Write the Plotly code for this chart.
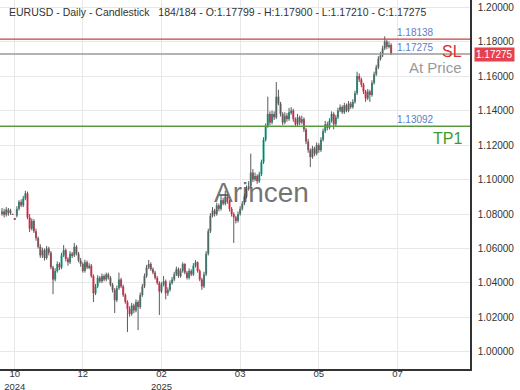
import plotly.graph_objects as go

# ---------------- data ----------------
opens = [
1.0805, 1.0815, 1.0795, 1.0825, 1.0805, 1.0800, 1.0772, 1.0790, 1.0830, 1.0870,
1.0850, 1.0890, 1.0920, 1.0780, 1.0715, 1.0760, 1.0700, 1.0660, 1.0610, 1.0560,
1.0590, 1.0545, 1.0600, 1.0575, 1.0490, 1.0420, 1.0470, 1.0510, 1.0490, 1.0560,
1.0590, 1.0540, 1.0520, 1.0570, 1.0560, 1.0610, 1.0570, 1.0530, 1.0510, 1.0470,
1.0520, 1.0490, 1.0500, 1.0440, 1.0340, 1.0380, 1.0430, 1.0410, 1.0440, 1.0420,
1.0450, 1.0430, 1.0390, 1.0360, 1.0300, 1.0370, 1.0420, 1.0380, 1.0330, 1.0290,
1.0250, 1.0220, 1.0270, 1.0240, 1.0290, 1.0260, 1.0330, 1.0380, 1.0440, 1.0490,
1.0510, 1.0480, 1.0460, 1.0430, 1.0400, 1.0350, 1.0390, 1.0410, 1.0340, 1.0360,
1.0400, 1.0420, 1.0450, 1.0480, 1.0440, 1.0470, 1.0510, 1.0460, 1.0430, 1.0470,
1.0450, 1.0500, 1.0520, 1.0470, 1.0420, 1.0380, 1.0450, 1.0570, 1.0700, 1.0790,
1.0820, 1.0800, 1.0850, 1.0830, 1.0880, 1.0860, 1.0900, 1.0870, 1.0830, 1.0800,
1.0780, 1.0760, 1.0800, 1.0830, 1.0860, 1.0900, 1.0950, 1.0960, 1.1040, 1.1000,
1.1020, 1.0990, 1.1030, 1.1100, 1.1230, 1.1310, 1.1380, 1.1330, 1.1380, 1.1360,
1.1480, 1.1440, 1.1380, 1.1330, 1.1370, 1.1350, 1.1390, 1.1400, 1.1350, 1.1320,
1.1360, 1.1330, 1.1350, 1.1290, 1.1220, 1.1170, 1.1130, 1.1180, 1.1150, 1.1200,
1.1170, 1.1230, 1.1280, 1.1320, 1.1300, 1.1340, 1.1380, 1.1320, 1.1360, 1.1400,
1.1420, 1.1390, 1.1430, 1.1400, 1.1440, 1.1420, 1.1450, 1.1500, 1.1600, 1.1580,
1.1550, 1.1510, 1.1470, 1.1510, 1.1490, 1.1560, 1.1610, 1.1650, 1.1700, 1.1720,
1.1760, 1.1800, 1.1770, 1.17799,
]
highs = [
1.0835, 1.0830, 1.0840, 1.0835, 1.0830, 1.0802, 1.0774, 1.0845, 1.0880, 1.0885,
1.0905, 1.0935, 1.0930, 1.0800, 1.0775, 1.0770, 1.0715, 1.0670, 1.0625, 1.0605,
1.0600, 1.0615, 1.0610, 1.0585, 1.0500, 1.0485, 1.0525, 1.0520, 1.0575, 1.0620,
1.0600, 1.0550, 1.0585, 1.0580, 1.0632, 1.0620, 1.0580, 1.0545, 1.0520, 1.0535,
1.0530, 1.0515, 1.0510, 1.0450, 1.0395, 1.0445, 1.0440, 1.0455, 1.0450, 1.0460,
1.0460, 1.0440, 1.0400, 1.0370, 1.0385, 1.0460, 1.0430, 1.0390, 1.0340, 1.0300,
1.0265, 1.0285, 1.0280, 1.0305, 1.0300, 1.0345, 1.0395, 1.0455, 1.0505, 1.0533,
1.0520, 1.0490, 1.0470, 1.0440, 1.0410, 1.0405, 1.0440, 1.0420, 1.0375, 1.0415,
1.0435, 1.0465, 1.0495, 1.0490, 1.0485, 1.0520, 1.0515, 1.0470, 1.0485, 1.0480,
1.0515, 1.0533, 1.0525, 1.0480, 1.0430, 1.0465, 1.0585, 1.0715, 1.0805, 1.0840,
1.0830, 1.0865, 1.0860, 1.0905, 1.0895, 1.0935, 1.0910, 1.0880, 1.0840, 1.0810,
1.0790, 1.0815, 1.0845, 1.0875, 1.0915, 1.0965, 1.0990, 1.1150, 1.1060, 1.1040,
1.1030, 1.1045, 1.1115, 1.1245, 1.1325, 1.1480, 1.1395, 1.1400, 1.1395, 1.1565,
1.1520, 1.1450, 1.1390, 1.1390, 1.1385, 1.1415, 1.1420, 1.1410, 1.1360, 1.1380,
1.1370, 1.1370, 1.1360, 1.1300, 1.1235, 1.1180, 1.1195, 1.1190, 1.1215, 1.1210,
1.1245, 1.1295, 1.1340, 1.1335, 1.1355, 1.1395, 1.1390, 1.1375, 1.1415, 1.1435,
1.1430, 1.1445, 1.1440, 1.1455, 1.1450, 1.1465, 1.1515, 1.1625, 1.1615, 1.1590,
1.1560, 1.1520, 1.1525, 1.1520, 1.1575, 1.1625, 1.1665, 1.1715, 1.1740, 1.1775,
1.1830, 1.1810, 1.1800, 1.17900,
]
lows = [
1.0790, 1.0780, 1.0785, 1.0790, 1.0795, 1.0794, 1.0766, 1.0780, 1.0820, 1.0840,
1.0840, 1.0880, 1.0770, 1.0695, 1.0705, 1.0690, 1.0645, 1.0600, 1.0545, 1.0545,
1.0530, 1.0535, 1.0560, 1.0480, 1.0335, 1.0410, 1.0460, 1.0475, 1.0480, 1.0550,
1.0525, 1.0500, 1.0510, 1.0545, 1.0550, 1.0560, 1.0520, 1.0495, 1.0460, 1.0460,
1.0480, 1.0480, 1.0430, 1.0290, 1.0330, 1.0370, 1.0400, 1.0400, 1.0410, 1.0410,
1.0420, 1.0380, 1.0345, 1.0226, 1.0290, 1.0360, 1.0370, 1.0320, 1.0280, 1.0116,
1.0205, 1.0210, 1.0225, 1.0230, 1.0127, 1.0250, 1.0320, 1.0370, 1.0430, 1.0480,
1.0470, 1.0450, 1.0420, 1.0390, 1.0215, 1.0340, 1.0380, 1.0305, 1.0325, 1.0350,
1.0390, 1.0410, 1.0440, 1.0430, 1.0430, 1.0460, 1.0450, 1.0420, 1.0420, 1.0440,
1.0440, 1.0490, 1.0460, 1.0410, 1.0360, 1.0370, 1.0440, 1.0560, 1.0690, 1.0780,
1.0785, 1.0790, 1.0815, 1.0820, 1.0850, 1.0850, 1.0860, 1.0815, 1.0785, 1.0632,
1.0745, 1.0750, 1.0790, 1.0820, 1.0850, 1.0890, 1.0935, 1.0950, 1.0985, 1.0990,
1.0975, 1.0980, 1.1020, 1.1090, 1.1220, 1.1300, 1.1315, 1.1320, 1.1345, 1.1350,
1.1430, 1.1365, 1.1315, 1.1320, 1.1335, 1.1340, 1.1375, 1.1335, 1.1305, 1.1310,
1.1315, 1.1320, 1.1275, 1.1205, 1.1155, 1.1072, 1.1120, 1.1135, 1.1140, 1.1155,
1.1160, 1.1220, 1.1270, 1.1285, 1.1290, 1.1330, 1.1290, 1.1310, 1.1350, 1.1390,
1.1380, 1.1380, 1.1390, 1.1390, 1.1410, 1.1410, 1.1440, 1.1490, 1.1565, 1.1535,
1.1495, 1.1450, 1.1460, 1.1450, 1.1480, 1.1550, 1.1600, 1.1640, 1.1690, 1.1710,
1.1750, 1.1755, 1.1760, 1.17210,
]
closes = [
1.0815, 1.0795, 1.0825, 1.0805, 1.0820, 1.0796, 1.0768, 1.0830, 1.0870, 1.0850,
1.0890, 1.0920, 1.0780, 1.0715, 1.0760, 1.0700, 1.0660, 1.0610, 1.0560, 1.0590,
1.0545, 1.0600, 1.0575, 1.0490, 1.0420, 1.0470, 1.0510, 1.0490, 1.0560, 1.0590,
1.0540, 1.0520, 1.0570, 1.0560, 1.0610, 1.0570, 1.0530, 1.0510, 1.0470, 1.0520,
1.0490, 1.0500, 1.0440, 1.0340, 1.0380, 1.0430, 1.0410, 1.0440, 1.0420, 1.0450,
1.0430, 1.0390, 1.0360, 1.0300, 1.0370, 1.0420, 1.0380, 1.0330, 1.0290, 1.0250,
1.0220, 1.0270, 1.0240, 1.0290, 1.0260, 1.0330, 1.0380, 1.0440, 1.0490, 1.0510,
1.0480, 1.0460, 1.0430, 1.0400, 1.0350, 1.0390, 1.0410, 1.0340, 1.0360, 1.0400,
1.0420, 1.0450, 1.0480, 1.0440, 1.0470, 1.0510, 1.0460, 1.0430, 1.0470, 1.0450,
1.0500, 1.0520, 1.0470, 1.0420, 1.0380, 1.0450, 1.0570, 1.0700, 1.0790, 1.0820,
1.0800, 1.0850, 1.0830, 1.0880, 1.0860, 1.0900, 1.0870, 1.0830, 1.0800, 1.0780,
1.0760, 1.0800, 1.0830, 1.0860, 1.0900, 1.0950, 1.0960, 1.1040, 1.1000, 1.1020,
1.0990, 1.1030, 1.1100, 1.1230, 1.1310, 1.1380, 1.1330, 1.1380, 1.1360, 1.1480,
1.1440, 1.1380, 1.1330, 1.1370, 1.1350, 1.1390, 1.1400, 1.1350, 1.1320, 1.1360,
1.1330, 1.1350, 1.1290, 1.1220, 1.1170, 1.1130, 1.1180, 1.1150, 1.1200, 1.1170,
1.1230, 1.1280, 1.1320, 1.1300, 1.1340, 1.1380, 1.1320, 1.1360, 1.1400, 1.1420,
1.1390, 1.1430, 1.1400, 1.1440, 1.1420, 1.1450, 1.1500, 1.1600, 1.1580, 1.1550,
1.1510, 1.1470, 1.1510, 1.1490, 1.1560, 1.1610, 1.1650, 1.1700, 1.1720, 1.1760,
1.1800, 1.1770, 1.17799, 1.17275,
]

tick_positions = [6, 38, 75, 112, 149, 186]
tick_labels = ["10<br>2024", "12", "02<br>2025", "03", "05", "07"]

sl_level = 1.18138
at_price_level = 1.17275
tp1_level = 1.13092
title_text = "EURUSD - Daily - Candlestick   184/184 - O:1.17799 - H:1.17900 - L:1.17210 - C:1.17275"

# ---------------- figure ----------------
n = len(closes)
idx = list(range(n))

wx, wy = [], []
for i in idx:
    wx += [i, i, None]
    wy += [lows[i], highs[i], None]

up_x = [i for i in idx if closes[i] >= opens[i]]
dn_x = [i for i in idx if closes[i] < opens[i]]

def body(ix):
    base = [min(opens[i], closes[i]) for i in ix]
    h = [max(abs(closes[i] - opens[i]), 0.0004) for i in ix]
    return base, h

up_base, up_h = body(up_x)
dn_base, dn_h = body(dn_x)

GREEN = "#22a790"
RED = "#e0405a"
FONT = "Liberation Sans, Arial"

fig = go.Figure()
fig.add_trace(go.Scatter(x=wx, y=wy, mode="lines",
                         line=dict(color="#5a5a5a", width=1),
                         hoverinfo="skip", showlegend=False))
fig.add_trace(go.Bar(x=up_x, y=up_h, base=up_base, width=0.95,
                     marker=dict(color=GREEN, line=dict(width=0)),
                     showlegend=False))
fig.add_trace(go.Bar(x=dn_x, y=dn_h, base=dn_base, width=0.95,
                     marker=dict(color=RED, line=dict(width=0)),
                     showlegend=False))

# horizontal level lines
fig.add_shape(type="line", xref="paper", x0=0, x1=1, yref="y", y0=sl_level, y1=sl_level,
              line=dict(color="#c94040", width=1.2))
fig.add_shape(type="line", xref="paper", x0=0, x1=1, yref="y", y0=at_price_level, y1=at_price_level,
              line=dict(color="#9a9a9a", width=1.5))
fig.add_shape(type="line", xref="paper", x0=0, x1=1, yref="y", y0=tp1_level, y1=tp1_level,
              line=dict(color="#5a9a40", width=1.5))

ann = []
BLUE = "#5b7ec4"
ann.append(dict(xref="paper", yref="y", x=395/470, y=sl_level, yshift=7,
                text=f"{sl_level:.5f}", showarrow=False, xanchor="left", yanchor="middle",
                font=dict(size=10, color=BLUE, family=FONT)))
ann.append(dict(xref="paper", yref="y", x=395/470, y=at_price_level, yshift=7,
                text=f"{at_price_level:.5f}", showarrow=False, xanchor="left", yanchor="middle",
                font=dict(size=10, color=BLUE, family=FONT)))
ann.append(dict(xref="paper", yref="y", x=395/470, y=tp1_level, yshift=7,
                text=f"{tp1_level:.5f}", showarrow=False, xanchor="left", yanchor="middle",
                font=dict(size=10, color=BLUE, family=FONT)))
ann.append(dict(xref="paper", yref="y", x=464/470, y=at_price_level, yshift=3,
                text="SL", showarrow=False, xanchor="right", yanchor="middle",
                font=dict(size=16, color="#d9302c", family=FONT)))
ann.append(dict(xref="paper", yref="y", x=464/470, y=at_price_level, yshift=-13,
                text="At Price", showarrow=False, xanchor="right", yanchor="middle",
                font=dict(size=15, color="#999999", family=FONT)))
ann.append(dict(xref="paper", yref="y", x=464/470, y=tp1_level, yshift=-12,
                text="TP1", showarrow=False, xanchor="right", yanchor="middle",
                font=dict(size=16, color="#3f9a2c", family=FONT)))
# price tag on axis
ann.append(dict(xref="paper", yref="y", x=1, xshift=4, y=at_price_level,
                text=f"{at_price_level:.5f}", showarrow=False, xanchor="left", yanchor="middle",
                bgcolor="#e8414e", borderpad=1,
                font=dict(size=10, color="white", family=FONT)))
# title
ann.append(dict(xref="paper", yref="paper", x=7/470, y=1, yshift=-4,
                text=title_text, showarrow=False, xanchor="left", yanchor="top",
                font=dict(size=10.5, color="#333333", family=FONT)))
# watermark
ann.append(dict(xref="paper", yref="paper", x=261/470, y=1 - 193/369,
                text="Arincen", showarrow=False, xanchor="center", yanchor="middle",
                font=dict(size=28, color="rgba(70,70,70,0.75)", family=FONT)))

fig.update_layout(
    template="none",
    width=520, height=390,
    margin=dict(l=0, r=50, t=0, b=21, pad=0),
    paper_bgcolor="white", plot_bgcolor="white",
    barmode="overlay",
    showlegend=False,
    annotations=ann,
    xaxis=dict(range=[-0.94, 220.1], tickvals=tick_positions, ticktext=tick_labels,
               automargin=False,
               showgrid=True, gridcolor="#e8e8e8", gridwidth=1,
               showline=True, linecolor="#333333", linewidth=1.5,
               ticks="", zeroline=False, ticklabelstandoff=-5,
               tickfont=dict(size=9.5, color="#333333", family=FONT)),
    yaxis=dict(side="right", range=[0.99014, 1.20406], tick0=1.0, dtick=0.02,
               automargin=False,
               tickformat=".5f", showgrid=True, gridcolor="#e8e8e8", gridwidth=1,
               showline=True, linecolor="#333333", linewidth=1.5,
               ticks="", zeroline=False, ticklabelstandoff=4,
               tickfont=dict(size=10, color="#333333", family=FONT)),
)

fig.write_html("out.html",
               config={"displayModeBar": False},
               post_script="document.body.style.margin='0';document.body.style.overflow='hidden';")
